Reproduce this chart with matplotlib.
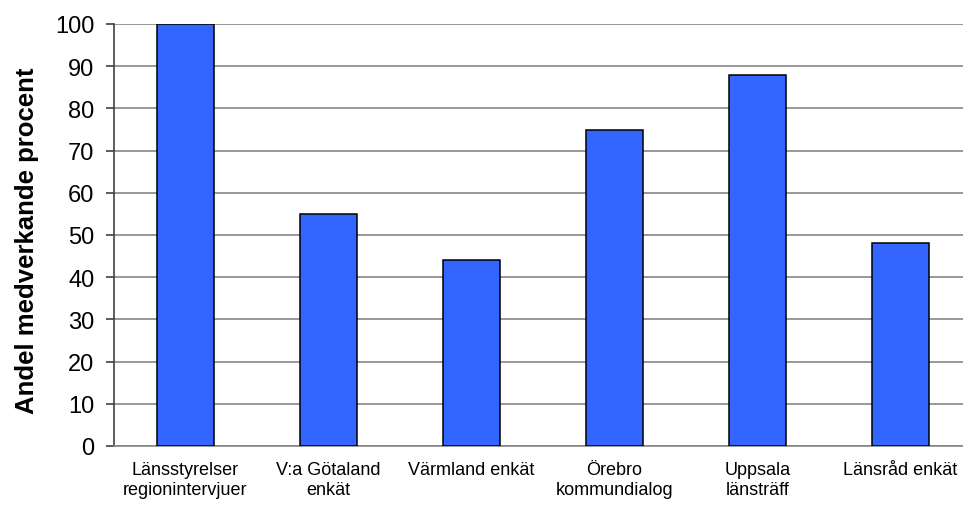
import numpy as np
import matplotlib.pyplot as plt

# Data
categories = ['Länsstyrelser\nregionintervjuer', 'V:a Götaland\nenkät', 'Värmland enkät',
              'Örebro\nkommundialog', 'Uppsala\nlänsträff', 'Länsråd enkät']
values = [100, 55, 44, 75, 88, 48]
y_ticks = [0, 10, 20, 30, 40, 50, 60, 70, 80, 90, 100]

plt.rcParams['font.family'] = ['Liberation Sans', 'DejaVu Sans']

fig = plt.figure(figsize=(9.63, 5.06), dpi=100)
# plot area runs a little past the right edge of the picture, as in the original
ax = fig.add_axes([114 / 963, 1 - 447 / 506, 858 / 963, 422 / 506])

x = np.arange(len(categories))
ax.bar(x, values, width=0.405, color='#3366FF', edgecolor='black', linewidth=1.1, zorder=3)

ax.set_xlim(-0.5, len(categories) - 0.5)
ax.set_ylim(0, 100)
ax.set_yticks(y_ticks)
ax.set_xticks(x)
ax.set_xticklabels(categories, fontsize=13, linespacing=1.2)

ax.yaxis.grid(True, color='#868686', linewidth=1.2, zorder=0)
ax.set_axisbelow(True)

for side in ['top', 'right']:
    ax.spines[side].set_visible(False)
ax.spines['left'].set_color('#404040')
ax.spines['left'].set_linewidth(1.2)
ax.spines['bottom'].set_color('#868686')
ax.spines['bottom'].set_linewidth(1.2)

ax.tick_params(axis='y', labelsize=17, length=6, width=1.2, color='#404040', pad=8)
ax.tick_params(axis='x', length=0, pad=11)

ax.set_ylabel('Andel medverkande procent', fontsize=18.5, fontweight='bold', labelpad=12, y=0.489)

fig.savefig('out.png', dpi=100)
